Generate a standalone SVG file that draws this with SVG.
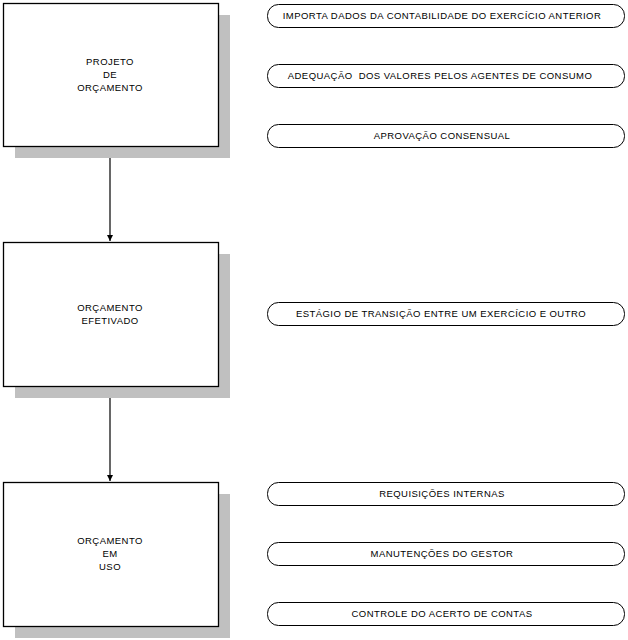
<svg xmlns="http://www.w3.org/2000/svg" width="628" height="640" viewBox="0 0 628 640">
<style>
.shadow{fill:#c0c0c0;stroke:none}
.box{fill:#fff;stroke:#000;stroke-width:1.3}
.pill{fill:#fff;stroke:#000;stroke-width:1}
text{font-family:"Liberation Sans",Arial,sans-serif;font-size:9.5px;fill:#000;text-anchor:middle;letter-spacing:0.45px}
.conn{stroke:#000;stroke-width:1.2;fill:none}
</style>
<defs>
<marker id="arr" markerWidth="7" markerHeight="7" refX="6" refY="3.5" orient="auto" markerUnits="userSpaceOnUse" viewBox="0 0 7 7">
<path d="M0,0.5 L6,3.5 L0,6.5 Z" fill="#000"/>
</marker>
</defs>
<rect width="628" height="640" fill="#fff"/>
<g id="connectors">
<line class="conn" x1="110" y1="146" x2="110" y2="241" marker-end="url(#arr)"/>
<line class="conn" x1="110" y1="386" x2="110" y2="481" marker-end="url(#arr)"/>
</g>
<g id="n1">
<rect class="shadow" x="15" y="15" width="215" height="143"/>
<rect class="box" x="3.5" y="3.5" width="215" height="143"/>
<text x="110" y="65">PROJETO</text>
<text x="110" y="78">DE</text>
<text x="110" y="91">ORÇAMENTO</text>
</g>
<g id="n2">
<rect class="shadow" x="15" y="254" width="215" height="144"/>
<rect class="box" x="3.5" y="242.5" width="215" height="144"/>
<text x="110" y="311">ORÇAMENTO</text>
<text x="110" y="324">EFETIVADO</text>
</g>
<g id="n3">
<rect class="shadow" x="15" y="494" width="215" height="144"/>
<rect class="box" x="3.5" y="482.5" width="215" height="144"/>
<text x="110" y="544">ORÇAMENTO</text>
<text x="110" y="557">EM</text>
<text x="110" y="570">USO</text>
</g>
<g id="p1"><rect class="pill" x="267.5" y="4.5" width="357" height="23" rx="11" ry="11"/><text x="442" y="19">IMPORTA DADOS DA CONTABILIDADE DO EXERCÍCIO ANTERIOR</text></g>
<g id="p2"><rect class="pill" x="267.5" y="64.5" width="357" height="23" rx="11" ry="11"/><text x="440" y="79" xml:space="preserve">ADEQUAÇÃO  DOS VALORES PELOS AGENTES DE CONSUMO</text></g>
<g id="p3"><rect class="pill" x="267.5" y="124.5" width="357" height="23" rx="11" ry="11"/><text x="442" y="139">APROVAÇÃO CONSENSUAL</text></g>
<g id="p4"><rect class="pill" x="267.5" y="302.5" width="357" height="23" rx="11" ry="11"/><text x="441" y="317">ESTÁGIO DE TRANSIÇÃO ENTRE UM EXERCÍCIO E OUTRO</text></g>
<g id="p5"><rect class="pill" x="267.5" y="482.5" width="357" height="23" rx="11" ry="11"/><text x="442" y="497">REQUISIÇÕES INTERNAS</text></g>
<g id="p6"><rect class="pill" x="267.5" y="542.5" width="357" height="23" rx="11" ry="11"/><text x="442" y="557">MANUTENÇÕES DO GESTOR</text></g>
<g id="p7"><rect class="pill" x="267.5" y="602.5" width="357" height="23" rx="11" ry="11"/><text x="442" y="617">CONTROLE DO ACERTO DE CONTAS</text></g>
</svg>
